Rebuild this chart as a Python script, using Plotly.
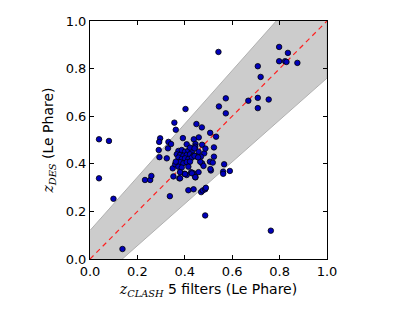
import plotly.graph_objects as go

# photometric redshifts: CLASH 5 filters (x) vs DES (y)
z_clash = [
    0.038, 0.038, 0.080, 0.099, 0.137,
    0.232, 0.254, 0.259,
    0.290, 0.296, 0.292, 0.293, 0.329, 0.331, 0.342, 0.324,
    0.356, 0.362, 0.337, 0.349, 0.352,
    0.392, 0.403, 0.377, 0.399, 0.415, 0.437, 0.437, 0.445, 0.427,
    0.449, 0.459, 0.472, 0.438, 0.445, 0.473, 0.482, 0.487, 0.468, 0.473, 0.479,
    0.469, 0.476, 0.486, 0.489, 0.486,
    0.507, 0.506, 0.510, 0.508, 0.518, 0.523, 0.523, 0.532,
    0.542, 0.544, 0.573, 0.573, 0.566, 0.562, 0.562, 0.590,
    0.668, 0.708, 0.708, 0.708, 0.720, 0.754, 0.763,
    0.798, 0.798, 0.823, 0.829, 0.835, 0.875,
    0.373, 0.387, 0.401, 0.415, 0.430, 0.458,
    0.366, 0.380, 0.394, 0.408, 0.422, 0.436, 0.451,
    0.373, 0.387, 0.401, 0.415, 0.430,
    0.380, 0.394, 0.408, 0.422, 0.465,
    0.359, 0.373, 0.387, 0.415,
    0.362, 0.408, 0.444, 0.422, 0.441,
    0.441, 0.456, 0.380, 0.408, 0.380, 0.401, 0.430, 0.444, 0.458,
]
z_des = [
    0.503, 0.339, 0.496, 0.253, 0.042,
    0.332, 0.332, 0.349,
    0.458, 0.507, 0.492, 0.428, 0.465, 0.492, 0.483, 0.423,
    0.573, 0.543, 0.264, 0.381, 0.347,
    0.508, 0.630, 0.339, 0.358, 0.289, 0.293, 0.360, 0.343, 0.365,
    0.567, 0.511, 0.553, 0.503, 0.483, 0.480, 0.444, 0.464, 0.430, 0.402, 0.391,
    0.281, 0.288, 0.293, 0.299, 0.183,
    0.530, 0.409, 0.372, 0.378, 0.405, 0.469, 0.430, 0.514,
    0.870, 0.641, 0.675, 0.612, 0.398, 0.367, 0.358, 0.370,
    0.665, 0.810, 0.677, 0.634, 0.765, 0.670, 0.119,
    0.891, 0.831, 0.831, 0.828, 0.866, 0.824,
    0.454, 0.458, 0.451, 0.455, 0.451, 0.451,
    0.440, 0.437, 0.434, 0.437, 0.440, 0.434, 0.430,
    0.426, 0.420, 0.423, 0.420, 0.426,
    0.407, 0.402, 0.407, 0.409, 0.409,
    0.398, 0.388, 0.384, 0.388,
    0.409, 0.482, 0.472, 0.468, 0.465,
    0.433, 0.427, 0.365, 0.353, 0.339, 0.357, 0.360, 0.344, 0.365,
]

# one-to-one line and tolerance band edges
line_x = [0.0, 1.0]
line_y = [0.0, 1.0]
band_x = [0.0, 1.0]
band_upper = [0.12, 1.24]
band_lower = [-0.12, 0.76]

tick_vals = [0.0, 0.2, 0.4, 0.6, 0.8, 1.0]
tick_text = ["0.0", "0.2", "0.4", "0.6", "0.8", "1.0"]

fig = go.Figure()
fig.add_trace(go.Scatter(
    x=band_x + band_x[::-1], y=band_upper + band_lower[::-1],
    fill="toself", fillcolor="#cccccc", mode="lines",
    line=dict(color="#b0b0b0", width=1), hoverinfo="skip", showlegend=False))
fig.add_trace(go.Scatter(
    x=line_x, y=line_y, mode="lines",
    line=dict(color="#ff2020", width=1.2, dash="5px,4px"), showlegend=False))
fig.add_trace(go.Scatter(
    x=z_clash, y=z_des, mode="markers",
    marker=dict(size=5.5, color="#0000bb", line=dict(color="black", width=0.8)),
    showlegend=False))

axis_common = dict(
    range=[0, 1], tickvals=tick_vals, ticktext=tick_text,
    ticks="inside", ticklen=4, tickcolor="black", tickwidth=1,
    showline=True, linecolor="black", linewidth=1, mirror="ticks",
    showgrid=False, zeroline=False, automargin=False,
    tickfont=dict(family="DejaVu Sans", size=13, color="black"),
)
serif = "font-family:'DejaVu Serif'"
fig.update_xaxes(**axis_common,
                 title=dict(text=f"<span style=\"{serif}\"><i>z</i><sub><i>CLASH</i></sub></span> 5 filters (Le Phare)",
                            font=dict(family="DejaVu Sans", size=14, color="black"), standoff=6))
fig.update_yaxes(**axis_common,
                 title=dict(text=f"<span style=\"{serif}\"><i>z</i><sub><i>DES</i></sub></span> (Le Phare)",
                            font=dict(family="DejaVu Sans", size=14, color="black"), standoff=8))
# page body has an 8px default margin, so the figure is sized/offset to compensate
fig.update_layout(
    width=407, height=304,
    margin=dict(l=82, r=88, t=13, b=53),
    paper_bgcolor="white", plot_bgcolor="white",
)
fig.write_html("out.html")
